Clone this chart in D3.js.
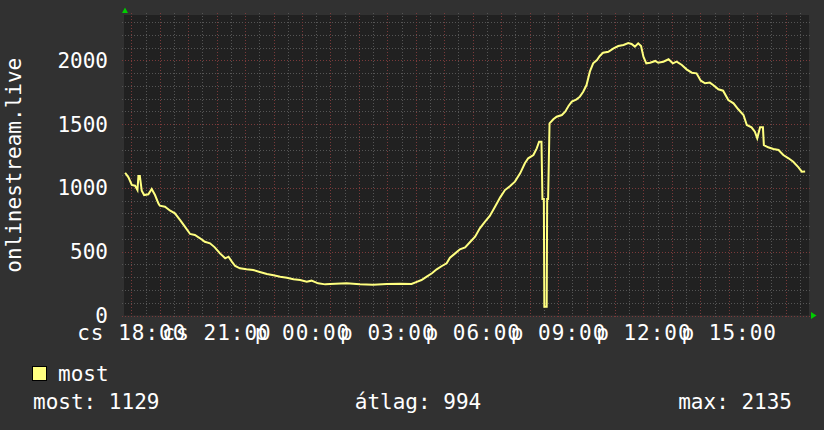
<!DOCTYPE html>
<html>
<head>
<meta charset="utf-8">
<script src="https://cdn.jsdelivr.net/npm/d3@7"></script>
<style>
  html, body { margin: 0; padding: 0; background: #313131; }
  svg { display: block; }
  text { font-family: 'DejaVu Sans Mono', monospace; fill: #ffffff; }
</style>
</head>
<body>
<div id="chart"></div>
<script>
// Graph Data (times are local, the day rolls over after midnight)
const times = [
  '17:47', '17:54', '18:01', '18:08', '18:13', '18:15', '18:18', '18:22', '18:27', '18:36',
  '18:43', '18:50', '18:57', '19:00', '19:11', '19:22', '19:32', '19:43', '19:53', '20:04',
  '20:14', '20:25', '20:35', '20:46', '20:56', '21:07', '21:18', '21:25', '21:32', '21:39',
  '21:49', '22:03', '22:17', '22:31', '22:46', '23:00', '23:14', '23:28', '23:42', '23:56',
  '00:10', '00:20', '00:34', '00:49', '00:59', '01:34', '02:02', '02:30', '02:59', '03:27',
  '03:51', '04:02', '04:12', '04:23', '04:34', '04:44', '04:55', '05:05', '05:12', '05:23',
  '05:33', '05:44', '05:54', '06:05', '06:15', '06:26', '06:36', '06:47', '06:58', '07:08',
  '07:19', '07:29', '07:40', '07:50', '07:57', '08:08', '08:15', '08:20', '08:25', '08:27',
  '08:30', '08:31', '08:36', '08:37', '08:39', '08:42', '08:50', '08:57', '09:08', '09:15',
  '09:22', '09:29', '09:39', '09:46', '09:53', '10:00', '10:07', '10:14', '10:22', '10:28',
  '10:35', '10:46', '10:57', '11:07', '11:18', '11:28', '11:35', '11:42', '11:49', '11:55',
  '12:00', '12:06', '12:14', '12:25', '12:31', '12:42', '12:53', '13:02', '13:10', '13:21',
  '13:31', '13:42', '13:52', '14:01', '14:10', '14:20', '14:27', '14:38', '14:48', '14:59',
  '15:10', '15:20', '15:31', '15:38', '15:48', '15:55', '16:00', '16:06', '16:12', '16:14',
  '16:23', '16:34', '16:45', '16:55', '17:06', '17:16', '17:27', '17:34', '17:41',
];
const values = [
  1119, 1083, 1023, 1017, 983, 1093, 1093, 978, 944, 950,
  991, 944, 879, 861, 853, 821, 801, 748, 696, 639,
  631, 605, 578, 566, 534, 487, 448, 461, 422, 388,
  370, 362, 357, 341, 325, 315, 304, 296, 284, 278,
  265, 273, 252, 244, 247, 252, 244, 241, 247, 249,
  247, 263, 278, 304, 331, 362, 388, 409, 453, 487,
  519, 534, 574, 618, 683, 735, 780, 853, 926, 983,
  1015, 1049, 1114, 1193, 1232, 1258, 1310, 1362, 1362, 913,
  913, 69, 69, 913, 913, 1506, 1538, 1558, 1571, 1597,
  1642, 1676, 1694, 1715, 1754, 1806, 1911, 1976, 2002, 2034,
  2060, 2067, 2094, 2112, 2120, 2135, 2128, 2107, 2133, 2112,
  2028, 1976, 1981, 1995, 1981, 1989, 2008, 1976, 1989, 1963,
  1929, 1903, 1898, 1840, 1820, 1825, 1806, 1773, 1762, 1689,
  1663, 1616, 1571, 1493, 1475, 1440, 1389, 1475, 1475, 1336,
  1318, 1305, 1297, 1258, 1232, 1205, 1161, 1127, 1129,
];
const xTickTimes = ['18:00', '21:00', '00:00', '03:00', '06:00', '09:00', '12:00', '15:00'];
const xTickLabels = ['cs 18:00', 'cs 21:00', 'p 00:00', 'p 03:00', 'p 06:00', 'p 09:00', 'p 12:00', 'p 15:00'];
const yTicks = [0, 500, 1000, 1500, 2000];
const seriesName = 'most';
const yTitle = 'onlinestream.live';
const legendStats = ['most: 1129', 'átlag: 994', 'max: 2135'];

function parseTimes(list) {
  // first sample is on Thursday, roll to next day when the clock wraps
  let day = 2;
  let last = -1;
  return list.map((s) => {
    const [h, m] = s.split(':').map(Number);
    const mins = h * 60 + m;
    if (mins < last) day += 1;
    last = mins;
    return new Date(2020, 0, day, h, m);
  });
}

const dates = parseTimes(times);
const data = dates.map((d, i) => ({ date: d, score: values[i] }));
const tickDates = parseTimes(['17:44'].concat(xTickTimes)).slice(1);

const width = 824;
const height = 430;
const plot = { left: 124, right: 809, top: 15, bottom: 315.5 };

const chart = d3.select('#chart').append('svg')
  .attr('width', width)
  .attr('height', height);

chart.append('rect')
  .attr('width', width)
  .attr('height', height)
  .attr('fill', '#313131');

const start = new Date(2020, 0, 2, 17, 44, 36);
const end = new Date(2020, 0, 3, 17, 49, 10);
const x = d3.scaleTime().domain([start, end]).range([plot.left, plot.right]);
const y = d3.scaleLinear().domain([0, 2355]).range([plot.bottom, plot.top]);

chart.append('rect')
  .attr('x', plot.left)
  .attr('y', plot.top)
  .attr('width', plot.right - plot.left)
  .attr('height', plot.bottom - plot.top)
  .attr('fill', '#212121');

const grid = chart.append('g')
  .attr('shape-rendering', 'crispEdges')
  .attr('stroke-dasharray', '1,2');

const px = v => Math.round(v) + 0.5;

// horizontal grid, minor every 100, major every 500
const hMinor = d3.range(0, 2400, 100).filter(v => v % 500 !== 0 && y(v) > plot.top);
grid.selectAll('.hminor')
  .data(hMinor)
  .enter().append('line')
  .attr('x1', plot.left - 2)
  .attr('x2', plot.right + 2)
  .attr('y1', d => px(y(d)))
  .attr('y2', d => px(y(d)))
  .attr('stroke', '#555555');

// vertical grid, minor every 30 min, major every hour
const vMinor = d3.timeMinute.every(30).range(start, end).filter(d => d.getMinutes() !== 0);
const vMajor = d3.timeHour.every(1).range(start, end);
grid.selectAll('.vminor')
  .data(vMinor)
  .enter().append('line')
  .attr('x1', d => px(x(d)))
  .attr('x2', d => px(x(d)))
  .attr('y1', plot.top - 2)
  .attr('y2', plot.bottom + 2)
  .attr('stroke', '#555555');

grid.selectAll('.hmajor')
  .data(yTicks)
  .enter().append('line')
  .attr('x1', plot.left - 2)
  .attr('x2', plot.right + 2)
  .attr('y1', d => px(y(d)))
  .attr('y2', d => px(y(d)))
  .attr('stroke', '#7a3a3a');

grid.selectAll('.vmajor')
  .data(vMajor)
  .enter().append('line')
  .attr('x1', d => px(x(d)))
  .attr('x2', d => px(x(d)))
  .attr('y1', plot.top - 2)
  .attr('y2', plot.bottom + 3)
  .attr('stroke', '#7a3a3a');

// Y axis labels
chart.append('g')
  .selectAll('text')
  .data(yTicks)
  .enter().append('text')
  .attr('x', 108)
  .attr('y', d => y(d))
  .attr('dy', '0.36em')
  .attr('text-anchor', 'end')
  .style('font-size', '21px')
  .text(d => d);

// X axis labels
chart.append('g')
  .selectAll('text')
  .data(tickDates)
  .enter().append('text')
  .attr('x', d => x(d) + 0.5)
  .attr('y', 340)
  .attr('text-anchor', 'middle')
  .style('font-size', '21px')
  .style('letter-spacing', '1px')
  .text((d, i) => xTickLabels[i]);

chart.append('text')
  .attr('transform', `translate(13, ${(plot.top + plot.bottom) / 2}) rotate(-90)`)
  .attr('text-anchor', 'middle')
  .attr('dy', '0.36em')
  .style('font-size', '21px')
  .text(yTitle);

// the series
const line = d3.line()
  .x(d => x(d.date))
  .y(d => y(d.score));

chart.append('path')
  .datum(data)
  .attr('fill', 'none')
  .attr('stroke', '#ffff80')
  .attr('stroke-width', 2)
  .attr('stroke-linejoin', 'miter')
  .attr('d', line);

// axis arrows
chart.append('path')
  .attr('d', `M${plot.left - 2},13 L${plot.left + 1},7.5 L${plot.left + 4},13 Z`)
  .attr('fill', '#00cc00');
chart.append('path')
  .attr('d', `M${plot.right + 2},312 L${plot.right + 7.5},315.5 L${plot.right + 2},319 Z`)
  .attr('fill', '#00cc00');

// legend
chart.append('rect')
  .attr('x', 32.5)
  .attr('y', 366.5)
  .attr('width', 14)
  .attr('height', 14)
  .attr('fill', '#ffff80')
  .attr('stroke', '#000000');

chart.append('text')
  .attr('x', 58)
  .attr('y', 381)
  .style('font-size', '21px')
  .text(seriesName);

const statX = [33, 418, 792];
const statAnchor = ['start', 'middle', 'end'];
chart.append('g')
  .selectAll('text')
  .data(legendStats)
  .enter().append('text')
  .attr('x', (d, i) => statX[i])
  .attr('y', 409)
  .attr('text-anchor', (d, i) => statAnchor[i])
  .style('font-size', '21px')
  .text(d => d);
</script>
</body>
</html>
